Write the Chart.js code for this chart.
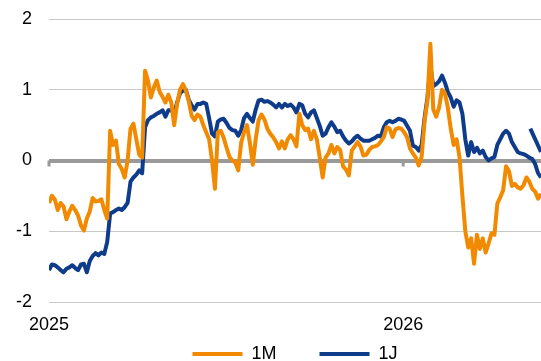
<!DOCTYPE html>
<html>
<head>
<meta charset="utf-8">
<script src="https://cdn.jsdelivr.net/npm/chart.js@4/dist/chart.umd.min.js"></script>
<style>
  html, body { margin: 0; padding: 0; background: #fff; }
  canvas { display: block; }
</style>
</head>
<body>
<canvas id="chart" width="541" height="361"></canvas>
<script>
// Observation grid: one value every three days from the first date
const firstDate = '2025-01-01';
const stepDays = 3;
const yearLabels = ['2025', '2026'];
const yTicks = [-2, -1, 0, 1, 2];
const seriesNames = ['1M', '1J'];

// 1M series
const oneMonth = [
  -0.6, -0.5, -0.55, -0.7, -0.6, -0.65, -0.83, -0.72, -0.64, -0.7,
  -0.78, -0.92, -0.99, -0.82, -0.72, -0.53, -0.58, -0.57, -0.55, -0.7,
  -0.82, 0.42, 0.22, 0.28, -0.05, -0.12, -0.24, 0.0, 0.45, 0.52,
  0.3, 0.08, 0.04, 1.27, 1.13, 0.89, 1.03, 1.13, 0.97, 0.9,
  0.82, 0.93, 0.82, 0.5, 0.8, 1.0, 1.08, 0.99, 0.84, 0.63,
  0.57, 0.65, 0.62, 0.5, 0.4, 0.3, 0.0, -0.4, 0.4, 0.42,
  0.32, 0.18, 0.05, 0.0, -0.03, -0.14, 0.25, 0.4, 0.5, 0.25,
  -0.06, 0.3, 0.57, 0.65, 0.58, 0.45, 0.38, 0.33, 0.26, 0.17,
  0.27, 0.17, 0.3, 0.36, 0.3, 0.2, 0.66, 0.5, 0.43, 0.45,
  0.3, 0.42, 0.3, 0.04, -0.24, 0.04, 0.1, 0.22, 0.1, 0.19,
  0.15, -0.08, -0.13, -0.21, 0.14, 0.2, 0.26, 0.2, 0.07, 0.08,
  0.15, 0.19, 0.2, 0.22, 0.27, 0.33, 0.47, 0.45, 0.33, 0.44,
  0.46, 0.45, 0.4, 0.33, 0.17, 0.1, 0.04, -0.07, 0.05, 0.55,
  0.85, 1.65, 0.72, 0.62, 0.75, 1.0, 0.95, 0.75, 0.45, 0.22,
  0.3, 0.05, -0.5, -1.0, -1.23, -1.1, -1.46, -1.05, -1.25, -1.1,
  -1.3, -1.17, -1.03, -1.05, -0.61, -0.52, -0.42, -0.08, -0.15, -0.36,
  -0.33, -0.38, -0.4, -0.35, -0.24, -0.3, -0.4, -0.44, -0.54, -0.47
];

// 1J series
const oneYear = [
  -1.55, -1.47, -1.48, -1.51, -1.55, -1.58, -1.53, -1.51, -1.48, -1.52,
  -1.55, -1.47, -1.46, -1.58, -1.42, -1.35, -1.31, -1.34, -1.3, -1.32,
  -1.15, -0.75, -0.73, -0.7, -0.68, -0.7, -0.66, -0.6, -0.3, -0.24,
  -0.2, -0.14, -0.18, 0.47, 0.57, 0.61, 0.63, 0.66, 0.68, 0.71,
  0.62, 0.71, 0.71, 0.66, 0.82, 0.95, 0.99, 1.0, 0.86, 0.78,
  0.72, 0.8, 0.8, 0.82, 0.8, 0.6, 0.38, 0.34, 0.55, 0.58,
  0.59, 0.53, 0.46, 0.43, 0.42, 0.35, 0.43, 0.6, 0.66, 0.6,
  0.55, 0.72, 0.85, 0.86, 0.83, 0.84, 0.82, 0.79, 0.75, 0.8,
  0.75, 0.8, 0.77, 0.79, 0.75, 0.68, 0.8, 0.78, 0.66, 0.61,
  0.68, 0.71, 0.6, 0.49, 0.35, 0.38, 0.47, 0.54, 0.48, 0.4,
  0.42, 0.34, 0.28, 0.24, 0.27, 0.32, 0.35, 0.31, 0.28, 0.28,
  0.28, 0.3, 0.32, 0.35, 0.34, 0.47, 0.54, 0.56, 0.54, 0.56,
  0.59, 0.58, 0.56, 0.49, 0.42, 0.21, 0.19, 0.14, 0.22, 0.6,
  0.89, 1.33, 1.05, 1.08, 1.12, 1.2, 1.1, 0.97, 0.89, 0.76,
  0.85, 0.82, 0.66, 0.3, 0.07, 0.26, 0.12, 0.18, 0.1, 0.14,
  0.05, 0.0, 0.03, 0.05, 0.22, 0.3, 0.38, 0.42, 0.38, 0.26,
  0.19, 0.12, 0.1, 0.09, 0.07, 0.04, 0.02, -0.05, -0.18, -0.24
];

// Separate late 1J piece (days after the first date)
const lateDays = [496, 507];
const lateOneYear = [0.45, 0.12];

const ORANGE = '#F18A00';
const BLUE = '#0F3C8A';
const ZERO_GREY = '#9a9a9a';
const GRID_GREY = '#c8c8c8';

const DAY_MS = 864e5;
const t0 = Date.parse(firstDate);
const dayOf = s => Math.round((Date.parse(s) - t0) / DAY_MS);
const yearDays = yearLabels.map(y => dayOf(y + '-01-01'));
const days = oneMonth.map((_, i) => i * stepDays);
const toPoints = (xs, ys) => ys.map((v, i) => ({ x: xs[i], y: v }));

const font = { family: "'Liberation Sans', Arial, sans-serif", size: 18 };

// Small tick marks where each year starts, sitting on the zero line
const zeroLineTicks = {
  id: 'zeroLineTicks',
  beforeDatasetsDraw(chart) {
    const { ctx, scales: { x, y } } = chart;
    const y0 = y.getPixelForValue(0);
    ctx.save();
    ctx.fillStyle = ZERO_GREY;
    x.ticks.forEach(t => {
      const px = x.getPixelForValue(t.value);
      ctx.fillRect(px - 1.5, y0, 3, 6);
    });
    ctx.restore();
  }
};

new Chart(document.getElementById('chart'), {
  type: 'line',
  data: {
    datasets: [
      { label: seriesNames[0], data: toPoints(days, oneMonth), borderColor: ORANGE },
      { label: seriesNames[1], data: toPoints(days, oneYear), borderColor: BLUE },
      { label: seriesNames[1], data: toPoints(lateDays, lateOneYear), borderColor: BLUE }
    ]
  },
  options: {
    responsive: false,
    animation: false,
    devicePixelRatio: 1,
    layout: { padding: { top: 19, right: 0, bottom: -12, left: 0 } },
    elements: {
      point: { radius: 0, hoverRadius: 0 },
      line: { borderWidth: 4, tension: 0, borderJoinStyle: 'round', fill: false }
    },
    scales: {
      x: {
        type: 'linear',
        position: { y: -2 },
        min: 0,
        max: days[days.length - 1],
        afterBuildTicks: s => { s.ticks = yearDays.map(v => ({ value: v })); },
        grid: { display: false, drawTicks: false },
        border: { display: false },
        ticks: {
          font, color: '#000', padding: 12, maxRotation: 0, autoSkip: false,
          callback: (v, i) => yearLabels[i]
        }
      },
      y: {
        position: 'left',
        min: -2,
        max: 2,
        afterBuildTicks: s => { s.ticks = yTicks.map(v => ({ value: v })); },
        afterFit: s => { s.width = 49; },
        grid: {
          drawTicks: true,
          tickLength: 9,
          tickColor: 'transparent',
          color: c => (c.tick && c.tick.value === 0 ? ZERO_GREY : GRID_GREY),
          lineWidth: c => (c.tick && c.tick.value === 0 ? 4 : 1)
        },
        border: { display: false },
        ticks: { font, color: '#000', padding: 8 }
      }
    },
    plugins: {
      legend: {
        position: 'bottom',
        fullSize: false,
        labels: {
          font, color: '#000', boxWidth: 50, boxHeight: 4, padding: 43,
          generateLabels: chart => Chart.defaults.plugins.legend.labels.generateLabels(chart)
            .filter(l => l.datasetIndex < 2)
            .map(l => ({ ...l, fillStyle: l.strokeStyle, lineWidth: 0 }))
        }
      },
      tooltip: { enabled: false }
    }
  },
  plugins: [zeroLineTicks]
});
</script>
</body>
</html>
